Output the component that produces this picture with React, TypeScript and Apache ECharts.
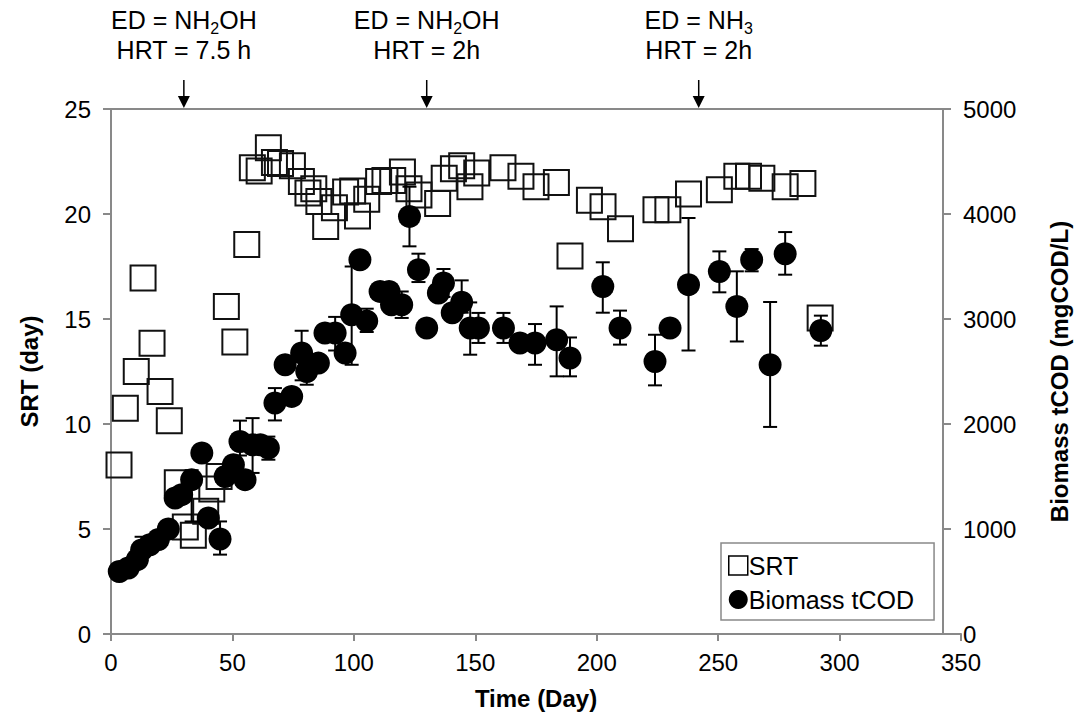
import React, { useEffect, useRef } from "react";
import * as echarts from "echarts";

// SRT (day) – left axis
const srtDays = [3.3, 5.9, 10.4, 13.2, 16.9, 20.2, 24, 27.3, 30.6, 33.9, 39, 41.5, 44.5, 47.5, 51, 55.9, 58.2, 61, 64.8, 67.3, 69.8, 74.7, 78.4, 81.1, 83.5, 85.6, 88.4, 92, 96.6, 99.5, 101.5, 105.3, 110.2, 112.8, 116, 120, 122.7, 126.8, 134.5, 137.2, 141, 144.4, 147.8, 150.6, 161.4, 168.8, 175, 183.4, 189, 197, 202.6, 209.8, 224.4, 229.3, 237.8, 250.5, 257.7, 262.5, 268, 277.6, 284.9, 292];
const srtValues = [8.05, 10.75, 12.5, 16.95, 13.85, 11.55, 10.15, 7.2, 5.1, 4.7, 5.85, 6.9, 7.5, 15.6, 13.9, 18.55, 22.2, 22.05, 23.15, 22.45, 22.4, 22.3, 21.55, 21.0, 21.2, 20.6, 19.4, 20.3, 21.05, 21.1, 19.9, 20.7, 21.55, 21.6, 21.6, 22.0, 21.2, 20.9, 20.5, 21.7, 22.15, 22.3, 21.3, 21.95, 22.2, 21.8, 21.3, 21.5, 18.0, 20.65, 20.35, 19.3, 20.2, 20.2, 20.95, 21.15, 21.8, 21.8, 21.7, 21.3, 21.45, 15.05];

// Biomass tCOD (mgCOD/L) – right axis
const codDays = [3.4, 7.1, 10.8, 12.6, 16, 19.5, 23.6, 26.4, 29.1, 33.2, 37.4, 40.1, 44.9, 47, 50.4, 53.1, 55.2, 58.3, 61.5, 64.8, 67.5, 71.7, 74.4, 78.5, 80.6, 85.4, 88.1, 92.3, 96.4, 99.1, 102.5, 105.3, 110.8, 114.5, 115.5, 119.7, 122.9, 126.6, 130, 134.8, 136.9, 140.5, 144.4, 147.9, 151.3, 161.6, 168.4, 174.6, 183.5, 189, 202.5, 209.6, 224, 230.2, 237.8, 250.5, 257.7, 263.8, 271.4, 277.6, 292.3];
const codValues = [596, 628, 708, 800, 850, 900, 1000, 1295, 1327, 1470, 1724, 1105, 905, 1500, 1612, 1834, 1470, 1802, 1802, 1771, 2200, 2565, 2263, 2676, 2500, 2580, 2867, 2867, 2676, 3040, 3565, 2980, 3263, 3263, 3136, 3136, 3977, 3470, 2914, 3248, 3343, 3060, 3160, 2914, 2914, 2914, 2771, 2771, 2802, 2628, 3310, 2914, 2596, 2914, 3327, 3453, 3120, 3565, 2565, 3622, 2891];

// Error bars for Biomass tCOD (mgCOD/L)
const errDays = [12.6, 33.2, 44.9, 53.1, 58.3, 64.8, 67.5, 78.5, 80.6, 92.3, 99.1, 105.3, 119.7, 122.9, 126.6, 136.9, 144.4, 147.9, 151.3, 161.6, 174.6, 183.5, 189, 202.5, 209.6, 224, 237.8, 250.5, 257.7, 263.8, 271.4, 277.6, 292.3];
const errLow = [700, 1072, 756, 1700, 1534, 1660, 2034, 2416, 2374, 2700, 2564, 2876, 3010, 3692, 3352, 3210, 3060, 2660, 2772, 2772, 2564, 2454, 2454, 3060, 2756, 2368, 2700, 3254, 2786, 3454, 1972, 3422, 2746];
const errHigh = [926, 1560, 1072, 2032, 2056, 1880, 2342, 2888, 2626, 3020, 3500, 3098, 3262, 4260, 3622, 3476, 3368, 3158, 3058, 3058, 2952, 3120, 2824, 3540, 3080, 2850, 3962, 3644, 3454, 3666, 3162, 3828, 3032];

// Phase annotations
const phaseDays = [30, 130, 242];
const phaseLine1 = ["{n|ED = NH}{s|2}{n|OH}", "{n|ED = NH}{s|2}{n|OH}", "{n|ED = NH}{s|3}"];
const phaseLine2 = ["HRT = 7.5 h", "HRT = 2h", "HRT = 2h"];

const FONT = "'Liberation Sans', Arial, sans-serif";
const AXIS_GRAY = "#898989";

export default function App() {
  const ref = useRef<HTMLDivElement>(null);

  useEffect(() => {
    if (!ref.current) return;
    const chart = echarts.init(ref.current, undefined, { renderer: "svg" });
    const labelStyle = { color: "#000", fontSize: 24, fontFamily: FONT };
    const nameStyle = { color: "#000", fontSize: 24, fontWeight: "bold" as const, fontFamily: FONT };

    chart.setOption({
      animation: false,
      backgroundColor: "#fff",
      textStyle: { fontFamily: FONT },
      grid: { left: 111, right: 124, top: 109, bottom: 85 },
      legend: {
        orient: "vertical",
        left: 721,
        top: 543,
        padding: [10, 20, 8, 7],
        itemGap: 9,
        itemWidth: 19,
        itemHeight: 19,
        borderColor: AXIS_GRAY,
        borderWidth: 1.5,
        textStyle: { color: "#000", fontSize: 25, fontFamily: FONT, padding: [0, 0, 0, -4] },
        data: [
          { name: "SRT", icon: "rect", itemStyle: { color: "#fff", borderColor: "#000", borderWidth: 1.5, opacity: 1 } },
          { name: "Biomass tCOD", icon: "circle", itemStyle: { color: "#000", opacity: 1 } },
        ],
      },
      xAxis: {
        type: "value",
        min: 0,
        max: 350,
        interval: 50,
        name: "Time (Day)",
        nameLocation: "middle",
        nameGap: 52,
        nameTextStyle: nameStyle,
        axisLine: { show: true, lineStyle: { color: AXIS_GRAY, width: 2 } },
        axisTick: { show: true, length: 7, lineStyle: { color: AXIS_GRAY, width: 2 } },
        axisLabel: { ...labelStyle, margin: 16 },
        splitLine: { show: false },
      },
      yAxis: [
        {
          type: "value",
          min: 0,
          max: 25,
          interval: 5,
          position: "left",
          name: "SRT (day)",
          nameLocation: "middle",
          nameRotate: 90,
          nameGap: 70,
          nameTextStyle: nameStyle,
          axisLine: { show: true, lineStyle: { color: AXIS_GRAY, width: 2 } },
          axisTick: { show: true, length: 8, lineStyle: { color: AXIS_GRAY, width: 2 } },
          axisLabel: { ...labelStyle, margin: 20 },
          splitLine: { show: false },
        },
        {
          type: "value",
          min: 0,
          max: 5000,
          interval: 1000,
          position: "right",
          offset: -18,
          name: "Biomass tCOD (mgCOD/L)",
          nameLocation: "middle",
          nameRotate: 90,
          nameGap: 104,
          nameTextStyle: nameStyle,
          axisLine: { show: true, lineStyle: { color: AXIS_GRAY, width: 2 } },
          axisTick: { show: true, length: 8, lineStyle: { color: AXIS_GRAY, width: 2 } },
          axisLabel: { ...labelStyle, margin: 20, formatter: (v: number) => String(v) },
          splitLine: { show: false },
        },
      ],
      series: [
        {
          name: "SRT",
          type: "scatter",
          xAxisIndex: 0,
          yAxisIndex: 0,
          symbol: "rect",
          symbolSize: 25,
          z: 2,
          itemStyle: { color: "rgba(255,255,255,0)", borderColor: "#111", borderWidth: 2, opacity: 1 },
          data: srtDays.map((d, i) => [d, srtValues[i]]),
        },
        {
          name: "Biomass error",
          type: "custom",
          xAxisIndex: 0,
          yAxisIndex: 1,
          z: 3,
          encode: { x: 0, y: [1, 2] },
          renderItem: (params: any, api: any) => {
            const d = api.value(0);
            const lo = api.coord([d, api.value(1)]);
            const hi = api.coord([d, api.value(2)]);
            const w = 7;
            const st = { stroke: "#000", lineWidth: 2 };
            return {
              type: "group",
              children: [
                { type: "line", shape: { x1: lo[0], y1: lo[1], x2: hi[0], y2: hi[1] }, style: st },
                { type: "line", shape: { x1: lo[0] - w, y1: lo[1], x2: lo[0] + w, y2: lo[1] }, style: st },
                { type: "line", shape: { x1: hi[0] - w, y1: hi[1], x2: hi[0] + w, y2: hi[1] }, style: st },
              ],
            };
          },
          data: errDays.map((d, i) => [d, errLow[i], errHigh[i]]),
        },
        {
          name: "Biomass tCOD",
          type: "scatter",
          xAxisIndex: 0,
          yAxisIndex: 1,
          symbol: "circle",
          symbolSize: 23,
          z: 4,
          itemStyle: { color: "#000", opacity: 1 },
          data: codDays.map((d, i) => [d, codValues[i]]),
        },
      ],
    });

    // Decorations: top border and phase annotations
    const x0 = chart.convertToPixel({ xAxisIndex: 0 }, 0) as number;
    const xEnd = (chart.convertToPixel({ xAxisIndex: 0 }, 350) as number) - 18;
    const yTop = chart.convertToPixel({ yAxisIndex: 0 }, 25) as number;
    const graphics: any[] = [
      {
        type: "line",
        shape: { x1: x0, y1: yTop, x2: xEnd, y2: yTop },
        style: { stroke: AXIS_GRAY, lineWidth: 2 },
        z: 1,
      },
    ];
    phaseDays.forEach((d, i) => {
      const px = chart.convertToPixel({ xAxisIndex: 0 }, d) as number;
      graphics.push({
        type: "text",
        x: px,
        y: 19,
        style: {
          text: phaseLine1[i],
          align: "center",
          verticalAlign: "middle",
          rich: {
            n: { fontSize: 25, fontFamily: FONT, fill: "#000", lineHeight: 26, verticalAlign: "bottom" },
            s: { fontSize: 16, fontFamily: FONT, fill: "#000", lineHeight: 18, verticalAlign: "bottom", padding: [0, 0, -4, 0] },
          },
        },
      });
      graphics.push({
        type: "text",
        x: px,
        y: 50,
        style: { text: phaseLine2[i], align: "center", verticalAlign: "middle", fontSize: 25, lineHeight: 26, fontFamily: FONT, fill: "#000" },
      });
      graphics.push({
        type: "line",
        shape: { x1: px, y1: 80, x2: px, y2: yTop - 8 },
        style: { stroke: "#000", lineWidth: 1.5 },
      });
      graphics.push({
        type: "polygon",
        shape: { points: [[px - 6, yTop - 13], [px + 6, yTop - 13], [px, yTop - 1]] },
        style: { fill: "#000" },
      });
    });
    chart.setOption({ graphic: graphics });

    return () => chart.dispose();
  }, []);

  return (
    <div
      ref={ref}
      style={{ position: "fixed", left: 0, top: 0, width: 1085, height: 719, background: "#fff" }}
    />
  );
}
